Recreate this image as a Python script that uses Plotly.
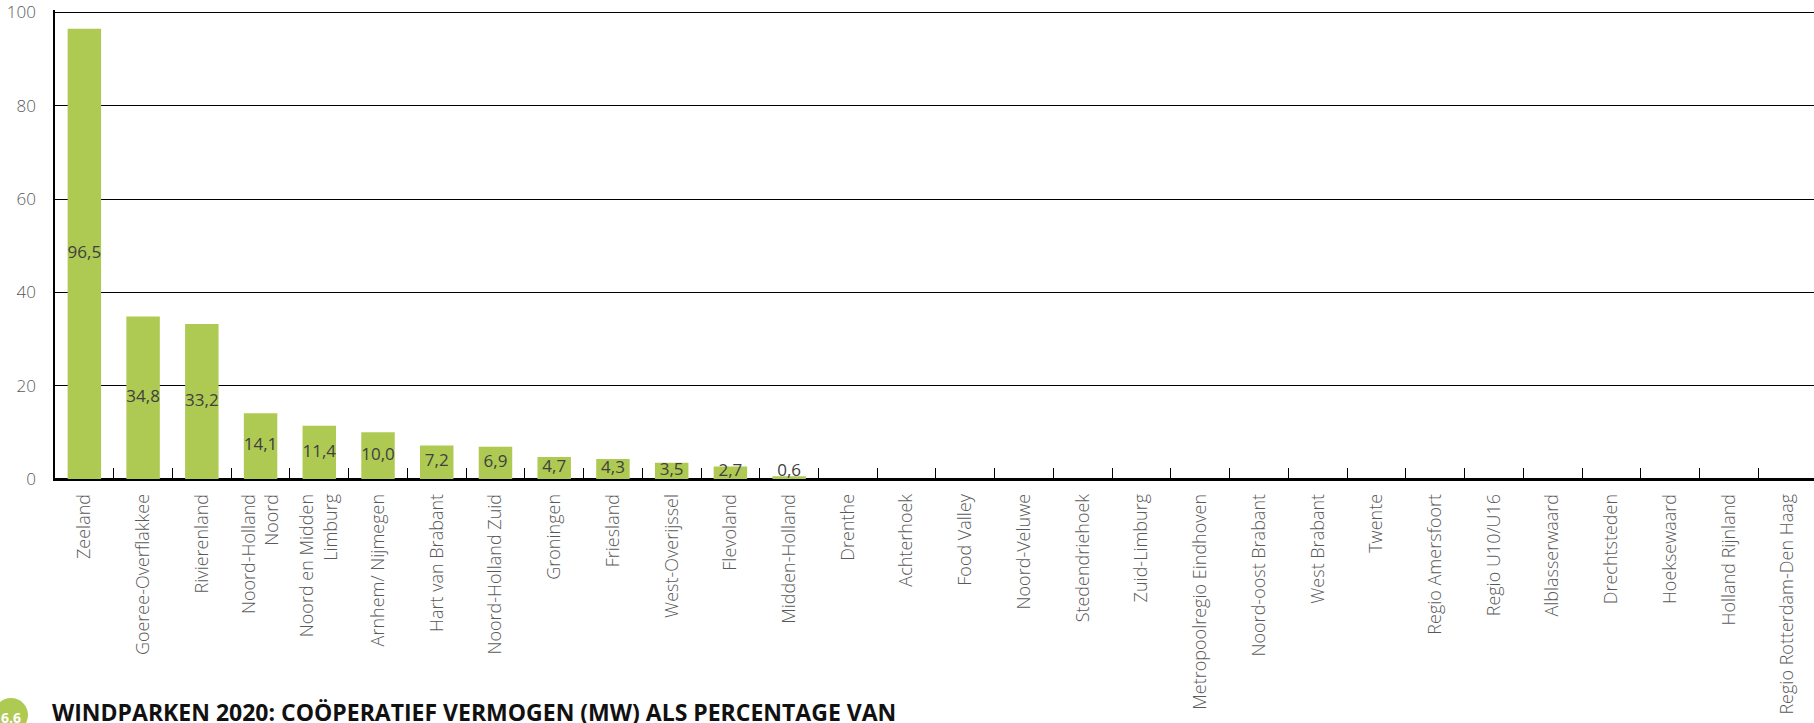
import plotly.graph_objects as go

regios = [
    "Zeeland", "Goeree-Overflakkee", "Rivierenland", "Noord-Holland<br>Noord",
    "Noord en Midden<br>Limburg", "Arnhem/ Nijmegen", "Hart van Brabant",
    "Noord-Holland Zuid", "Groningen", "Friesland", "West-Overijssel", "Flevoland",
    "Midden-Holland", "Drenthe", "Achterhoek", "Food Valley", "Noord-Veluwe",
    "Stedendriehoek", "Zuid-Limburg", "Metropoolregio Eindhoven", "Noord-oost Brabant",
    "West Brabant", "Twente", "Regio Amersfoort", "Regio U10/U16", "Alblasserwaard",
    "Drechtsteden", "Hoeksewaard", "Holland Rijnland", "Regio Rotterdam-Den Haag",
]
percentages = [96.5, 34.8, 33.2, 14.1, 11.4, 10.0, 7.2, 6.9, 4.7, 4.3, 3.5, 2.7, 0.6,
               0, 0, 0, 0, 0, 0, 0, 0, 0, 0, 0, 0, 0, 0, 0, 0, 0]
y_ticks = [0, 20, 40, 60, 80, 100]

groen = "#AFCA53"
grijs = "#595959"

# labels staan midden in de balk, met een minimum voor de kleine balken
labels = [f"{v:.1f}".replace(".", ",") for v in percentages if v > 0]
label_x = [r for r, v in zip(regios, percentages) if v > 0]
label_y = [max(v / 2, 1.5) for v in percentages if v > 0]

fig = go.Figure()
fig.add_trace(go.Bar(x=regios, y=percentages, marker_color=groen, marker_line_width=0))
fig.add_trace(go.Scatter(
    x=label_x, y=label_y, mode="text", text=labels,
    textfont=dict(family="Open Sans", size=17, color="#404040"),
    cliponaxis=False,
))

fig.update_layout(
    width=1814, height=723,
    margin=dict(l=55, r=0, t=10, b=244),
    plot_bgcolor="white", paper_bgcolor="white",
    showlegend=False, bargap=0.43,
    font=dict(family="Open Sans", color=grijs),
)
fig.update_xaxes(
    range=[-0.5, 29.45], automargin=False,
    tickangle=-90, tickfont=dict(size=18, weight=300, color=grijs),
    ticks="inside", tickson="boundaries", ticklen=11, tickcolor="black", tickwidth=1.3,
    ticklabelstandoff=6, ticklabeloverflow="allow",
    showline=True, linecolor="black", linewidth=1.5, showgrid=False,
)
fig.update_yaxes(
    range=[0, 100.5], tickvals=y_ticks, automargin=False,
    tickfont=dict(size=17, weight=300, color=grijs),
    showgrid=True, gridcolor="black", gridwidth=1.3,
    zeroline=True, zerolinecolor="black", zerolinewidth=1.5,
    showline=True, linecolor="black", linewidth=1.5,
    ticks="", ticklabelstandoff=14, ticklabeloverflow="allow",
)

# titel met nummer-bolletje onderaan
W, H = 1759, 469
fig.add_shape(type="circle", xref="paper", yref="paper",
              x0=-61 / W, x1=-27 / W, y0=-253 / H, y1=-219 / H,
              fillcolor=groen, line_width=0)
fig.add_annotation(text="<b>6.6</b>", xref="paper", yref="paper",
                   x=-44 / W, y=-238 / H, xanchor="center", yanchor="middle",
                   showarrow=False,
                   font=dict(family="Open Sans", size=14, color="white"))
fig.add_annotation(text="<b>WINDPARKEN 2020: COÖPERATIEF VERMOGEN (MW) ALS PERCENTAGE VAN</b>",
                   xref="paper", yref="paper", x=-5 / W, y=-215 / H,
                   xanchor="left", yanchor="top", showarrow=False,
                   font=dict(family="Open Sans", size=23, color="#111111"))

# geen standaard body-marge van de pagina, geen modebar
fig.write_html("out.html", config={"displayModeBar": False},
               post_script="document.body.style.margin = '0';")
